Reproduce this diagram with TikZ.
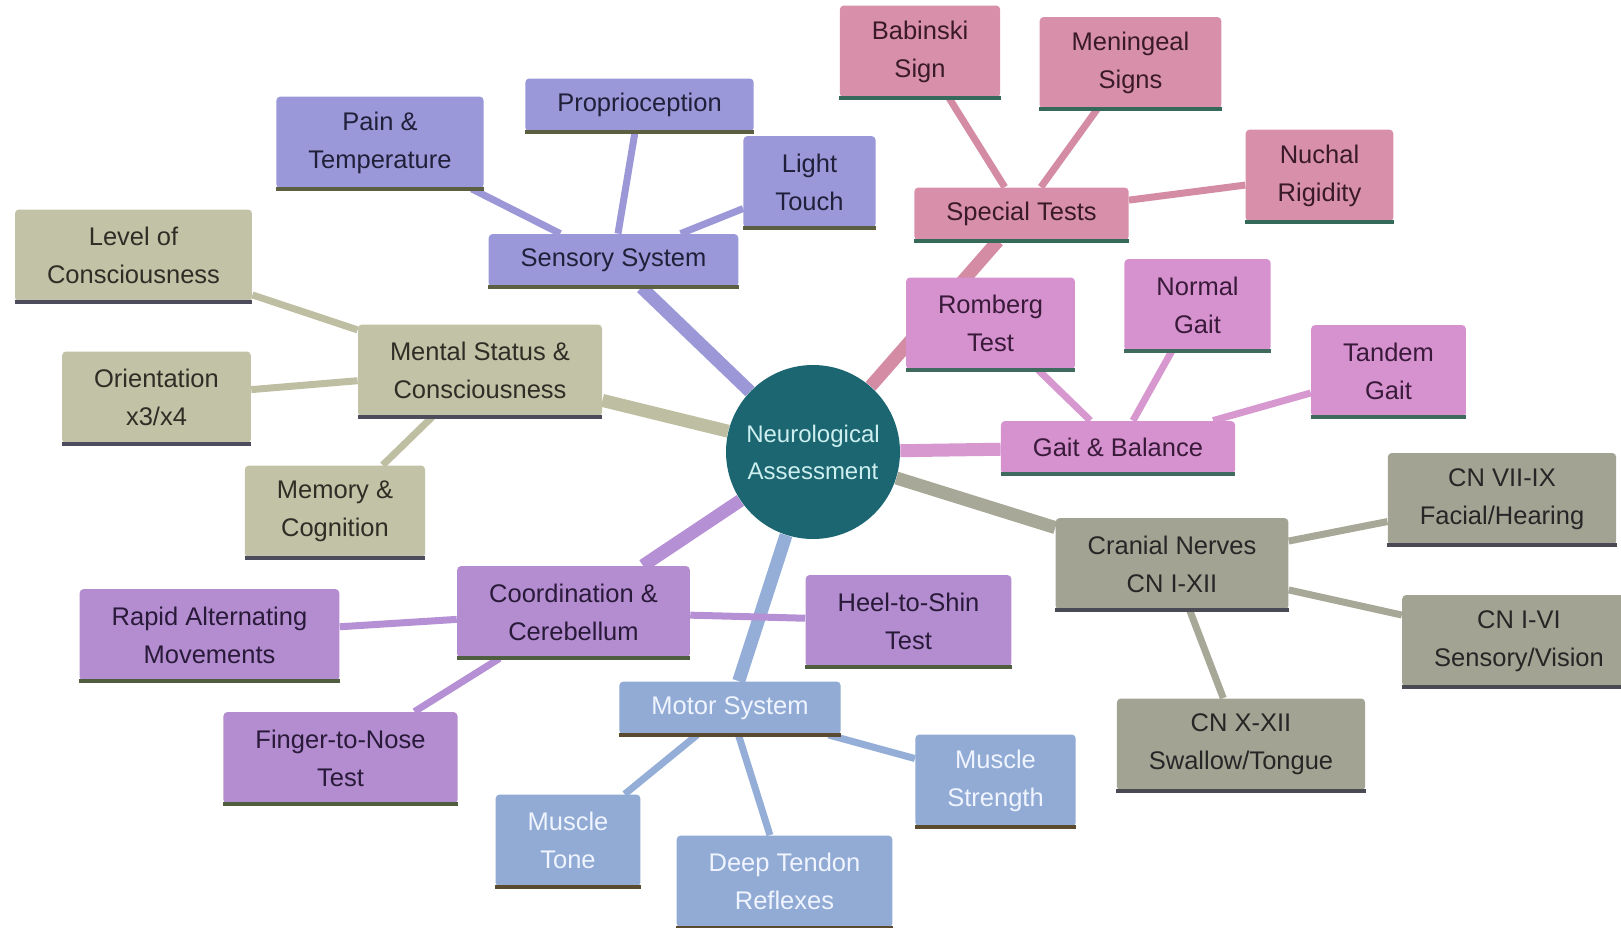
\documentclass[tikz,border=0pt]{standalone}
\usepackage{fontspec}
\setmainfont{Liberation Sans}
\usetikzlibrary{backgrounds}

\definecolor{hubfill}{HTML}{1B6670}
\definecolor{hubtext}{HTML}{CDEFF0}
\definecolor{mentfill}{HTML}{C2C2A6}
\definecolor{menttext}{HTML}{2E2E26}
\definecolor{mentbar}{HTML}{4C4C5C}
\definecolor{mentline}{HTML}{BEBEA2}
\definecolor{sensfill}{HTML}{9A98D8}
\definecolor{senstext}{HTML}{20203A}
\definecolor{sensbar}{HTML}{5D6040}
\definecolor{sensline}{HTML}{9C98D8}
\definecolor{specfill}{HTML}{D890AA}
\definecolor{spectext}{HTML}{3A1A28}
\definecolor{specbar}{HTML}{356A5A}
\definecolor{specline}{HTML}{D48CA5}
\definecolor{gaitfill}{HTML}{D692CF}
\definecolor{gaittext}{HTML}{3A1A3A}
\definecolor{gaitbar}{HTML}{3E6B5E}
\definecolor{gaitline}{HTML}{D698CF}
\definecolor{cranfill}{HTML}{A3A393}
\definecolor{crantext}{HTML}{262626}
\definecolor{cranbar}{HTML}{4A4A55}
\definecolor{cranline}{HTML}{A8A898}
\definecolor{coorfill}{HTML}{B38DD0}
\definecolor{coortext}{HTML}{2A1A3A}
\definecolor{coorbar}{HTML}{4F5E3E}
\definecolor{coorline}{HTML}{B590D5}
\definecolor{motofill}{HTML}{91ABD5}
\definecolor{mototext}{HTML}{F0F4FF}
\definecolor{motobar}{HTML}{5A4A2E}
\definecolor{motoline}{HTML}{94AED8}

\tikzset{
    box/.style={rectangle, rounded corners=2pt, inner xsep=16pt, inner ysep=0pt,
        minimum height=46pt, align=center, font=\fontsize{12.75}{19}\selectfont},
    branch/.style={box, fill=#1fill, text=#1text,
        append after command={(\tikzlastnode.south west) edge[draw=#1bar, line width=2pt] (\tikzlastnode.south east)}},
    one/.style={minimum height=26.5pt},
    trunk/.style={draw=#1line, line width=6.5pt},
    twig/.style={draw=#1line, line width=3.5pt}
}

\begin{document}
\begin{tikzpicture}[x=0.5pt, y=-0.5pt]
    \useasboundingbox (0,0) rectangle (1621,927);

    \node[circle, fill=hubfill, text=hubtext, minimum size=87pt, inner sep=0pt, align=center,
        font=\fontsize{12}{18.5}\selectfont] (neuro) at (813,452) {Neurological\\Assessment};

    \node[branch=ment] (mental) at (480,370.5) {Mental Status \&\\Consciousness};
    \node[branch=ment] (level) at (133.5,255.5) {Level of\\Consciousness};
    \node[branch=ment] (orient) at (156.5,397.5) {Orientation\\x3/x4};
    \node[branch=ment] (memory) at (335,511.5) {Memory \&\\Cognition};

    \node[branch=sens, one] (sensory) at (613.5,260.5) {Sensory System};
    \node[branch=sens, one] (proprio) at (639.5,105) {Proprioception};
    \node[branch=sens] (pain) at (380,142.5) {Pain \&\\Temperature};
    \node[branch=sens] (touch) at (809.5,182) {Light\\Touch};

    \node[branch=spec, one] (special) at (1021.5,214) {Special Tests};
    \node[branch=spec] (babinski) at (920,51.5) {Babinski\\Sign};
    \node[branch=spec] (meningeal) at (1130.5,63) {Meningeal\\Signs};
    \node[branch=spec] (nuchal) at (1319.5,175.5) {Nuchal\\Rigidity};

    \node[branch=gait, one] (gait) at (1118,447.5) {Gait \& Balance};
    \node[branch=gait] (romberg) at (990.5,323.5) {Romberg\\Test};
    \node[branch=gait] (normal) at (1197.5,305) {Normal\\Gait};
    \node[branch=gait] (tandem) at (1388.5,371) {Tandem\\Gait};

    \node[branch=cran] (cranial) at (1172,564) {Cranial Nerves\\CN I-XII};
    \node[branch=cran] (cnseven) at (1502,499) {CN VII-IX\\Facial/Hearing};
    \node[branch=cran] (cnone) at (1519,641) {CN I-VI\\Sensory/Vision};
    \node[branch=cran] (cnten) at (1241,744.5) {CN X-XII\\Swallow/Tongue};

    \node[branch=coor] (coord) at (573.5,612) {Coordination \&\\Cerebellum};
    \node[branch=coor] (heel) at (908.5,621) {Heel-to-Shin\\Test};
    \node[branch=coor] (rapid) at (209.5,635) {Rapid Alternating\\Movements};
    \node[branch=coor] (finger) at (340.5,758) {Finger-to-Nose\\Test};

    \node[branch=moto, one] (motor) at (730,708) {Motor System};
    \node[branch=moto] (strength) at (995.5,780.5) {Muscle\\Strength};
    \node[branch=moto] (tone) at (568,840.5) {Muscle\\Tone};
    \node[branch=moto] (reflex) at (784.5,881.5) {Deep Tendon\\Reflexes};

    \begin{scope}[on background layer]
        \draw[trunk=ment] (neuro) -- (mental);
        \draw[trunk=sens] (neuro) -- (sensory);
        \draw[trunk=spec] (neuro) -- (special);
        \draw[trunk=gait] (neuro) -- (gait);
        \draw[trunk=cran] (neuro) -- (cranial);
        \draw[trunk=coor] (neuro) -- (coord);
        \draw[trunk=moto] (neuro) -- (motor);

        \draw[twig=ment] (mental) -- (level);
        \draw[twig=ment] (mental) -- (orient);
        \draw[twig=ment] (mental) -- (memory);
        \draw[twig=sens] (sensory) -- (proprio);
        \draw[twig=sens] (sensory) -- (pain);
        \draw[twig=sens] (sensory) -- (touch);
        \draw[twig=spec] (special) -- (babinski);
        \draw[twig=spec] (special) -- (meningeal);
        \draw[twig=spec] (special) -- (nuchal);
        \draw[twig=gait] (gait) -- (romberg);
        \draw[twig=gait] (gait) -- (normal);
        \draw[twig=gait] (gait) -- (tandem);
        \draw[twig=cran] (cranial) -- (cnseven);
        \draw[twig=cran] (cranial) -- (cnone);
        \draw[twig=cran] (cranial) -- (cnten);
        \draw[twig=coor] (coord) -- (heel);
        \draw[twig=coor] (coord) -- (rapid);
        \draw[twig=coor] (coord) -- (finger);
        \draw[twig=moto] (motor) -- (strength);
        \draw[twig=moto] (motor) -- (tone);
        \draw[twig=moto] (motor) -- (reflex);
    \end{scope}
\end{tikzpicture}
\end{document}
